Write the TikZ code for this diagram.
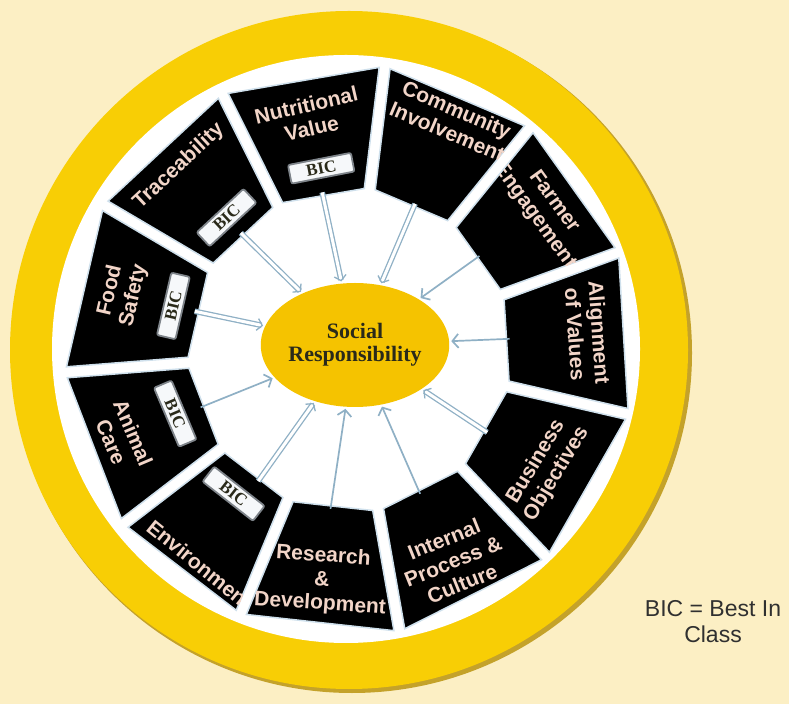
\documentclass[tikz,border=0pt]{standalone}
\usepackage{fontspec}
\setmainfont{Liberation Serif}
\setsansfont{Liberation Sans}
\newfontfamily\boxfont{Liberation Sans}
\usetikzlibrary{calc,arrows.meta,shapes.geometric}

\definecolor{bgc}{HTML}{FCEFC4}
\definecolor{ringc}{HTML}{F8CE05}
\definecolor{ringedge}{HTML}{C4A22A}
\definecolor{ellc}{HTML}{F5C300}
\definecolor{txtc}{HTML}{F2D5C8}
\definecolor{arrc}{HTML}{8FB0C5}
\definecolor{haloc}{HTML}{CFE0EC}
\definecolor{bicedge}{HTML}{7E848A}
\definecolor{bicfill}{HTML}{F6F8FA}
\definecolor{darktxt}{HTML}{2A2A1A}
\definecolor{legc}{HTML}{303030}

\def\rin{162}
\def\rout{284}
\def\gp{5.5}

\newcommand{\wheelbox}[7]{%
  \path[boxsty] ($(C)+(#3:\rin)+(#3+90:\gp)$) -- ($(C)+(#3:\rout)+(#3+90:\gp)$) -- ($(C)+(#4:\rout)+(#4-90:\gp)$) -- ($(C)+(#4:\rin)+(#4-90:\gp)$) -- cycle;
  \begin{scope}
    \clip ($(C)+(#3:\rin)+(#3+90:\gp)$) -- ($(C)+(#3:\rout)+(#3+90:\gp)$) -- ($(C)+(#4:\rout)+(#4-90:\gp)$) -- ($(C)+(#4:\rin)+(#4-90:\gp)$) -- cycle;
    \node[boxtext, rotate=#5] (#1) at ($(C)+(#2:#6)$) {#7};
  \end{scope}
  \coordinate (#1in) at ($(C)+(#2:\rin-2)$);
}

\tikzset{
  boxsty/.style={fill=black, draw=haloc, line width=1.5pt},
  boxtext/.style={text=txtc, align=center, inner sep=0pt,
    font=\boxfont\bfseries\fontsize{21}{24}\selectfont},
  bic/.style={draw=bicedge, line width=1.8pt, fill=bicfill, rounded corners=2pt,
    minimum width=64pt, minimum height=19pt, inner sep=0pt,
    font=\bfseries\fontsize{17}{17}\selectfont, text=darktxt},
  arrsingle/.style={draw=arrc, line width=1.7pt, shorten >=2pt,
    -{Straight Barb[length=6pt,width=14pt]}},
  arrdouble/.style={draw=arrc, line width=1.3pt, double=white, double distance=3pt, shorten >=2pt,
    -{Straight Barb[length=5pt,width=12pt]}},
}

\begin{document}
\begin{tikzpicture}[x=1pt,y=1pt]
\useasboundingbox (0,0) rectangle (789,704);
\fill[bgc] (0,0) rectangle (789,704);

% ring
\fill[ringedge] (352,351) circle (340);
\fill[ringc] (349,354) circle (339);
\fill[white] (346,355) circle (294);

\coordinate (C) at (350,354);

% boxes: name, angle, gapR, gapL, rotation, text radius, text
\wheelbox{an}{-159}{-175.5}{-142.5}{-67}{244}{Animal\\Care}
\wheelbox{en}{-125}{-142.5}{-112.5}{-39}{262}{Environment}
\wheelbox{rd}{-97}{-112.5}{-80}{-4}{232}{Research\\\&\\Development}
\wheelbox{ip}{-64}{-80}{-46.5}{22}{235}{Internal\\Process \&\\Culture}
\wheelbox{bo}{-31}{-46.5}{-13}{59}{229}{Business\\Objectives}
\wheelbox{av}{4}{-13}{20}{-86}{238}{Alignment\\of Values}
\wheelbox{fe}{36}{20}{51}{-54}{240}{Farmer\\Engagement}
\wheelbox{ci}{66}{51}{83}{-23}{251}{Community\\Involvement}
\wheelbox{nv}{100}{83}{116.5}{13}{237}{Nutritional\\Value}
\wheelbox{tr}{133}{116.5}{149.5}{43}{251}{Traceability}
\wheelbox{fs}{166}{149.5}{184.5}{77}{235}{Food\\Safety}

% BIC badges
\node[bic, rotate=11] (bicnv) at ($(C)+(99:184)$) {BIC};
\node[bic, rotate=43] (bictr) at ($(C)+(133:181)$) {BIC};
\node[bic, rotate=77] (bicfs) at ($(C)+(166:182)$) {BIC};
\node[bic, rotate=-67] (bican) at ($(C)+(-160:186)$) {BIC};
\node[bic, rotate=-38] (bicen) at ($(C)+(-129:185)$) {BIC};

% centre
\node[ellipse, fill=ellc, minimum width=176pt, minimum height=124pt, inner sep=0pt,
  align=center, text=darktxt, font=\bfseries\fontsize{22}{23}\selectfont] (sr) at (355,359)
  {Social\\Responsibility};

% arrows
\draw[arrdouble] (trin) -- (sr);
\draw[arrdouble] (nvin) -- (sr);
\draw[arrdouble] (ciin) -- (sr);
\draw[arrsingle] (fein) -- (sr);
\draw[arrsingle] (avin) -- (sr);
\draw[arrdouble] (boin) -- (sr);
\draw[arrsingle] (ipin) -- (sr);
\draw[arrsingle] (rdin) -- (sr);
\draw[arrdouble] (enin) -- (sr);
\draw[arrsingle] (anin) -- (sr);
\draw[arrdouble] (fsin) -- (sr);

% legend
\node[align=center, text=legc, font=\sffamily\fontsize{23}{26}\selectfont] (legend) at (713,82)
  {BIC = Best In\\Class};
\end{tikzpicture}
\end{document}
